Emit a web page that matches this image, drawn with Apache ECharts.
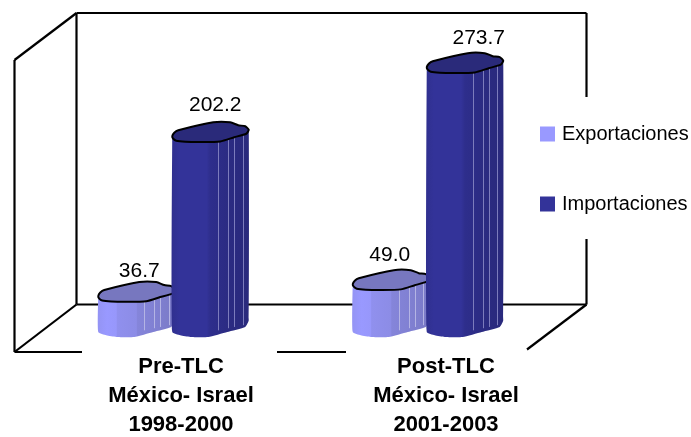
<!DOCTYPE html>
<html>
<head>
<meta charset="utf-8">
<style>html,body{margin:0;padding:0;background:#fff}#c{width:691px;height:437px}</style>
<script src="https://cdn.jsdelivr.net/npm/echarts@6/dist/echarts.min.js"></script>
</head>
<body>
<div id="c"></div>
<script>
var categories = ['Pre-TLC\nMéxico- Israel\n1998-2000', 'Post-TLC\nMéxico- Israel\n2001-2003'];
var exportaciones = [36.7, 49.0];
var importaciones = [202.2, 273.7];

var FONT = '"Liberation Sans", Arial, sans-serif';
// Cap and foot outlines of one column, in px relative to its left edge and lowest point
var capOutline = [[0,-5.5],[2,-9],[6,-11.5],[41,-19.5],[58,-19.5],[66,-16.5],[73,-15.5],[76.5,-12],[74,-8],[62,-4.5],[48,-.3],[28,.3],[13,0],[4,-1],[1,-3]];
var capLower = [[0,-5.5],[1,-3],[4,-1],[13,0],[28,.3],[48,-.3],[62,-4.5],[74,-8],[76.5,-12]];
var footOutline = [[76.5,-16.7],[73,-10],[55,-5],[36,0],[18,0],[8,-1.7],[0,-5]];
var ribs = [0.605, 0.737, 0.816, 0.925];

function columnSeries(name, values, o) {
  return {
    type: 'custom', name: name, xAxisIndex: 0, yAxisIndex: 0, z: o.z, clip: false,
    itemStyle: { color: o.swatch },
    encode: { x: 0, y: 1 },
    data: values.map(function (v, i) { return [i, v]; }),
    renderItem: function (params, api) {
      var i = api.value(0), v = api.value(1);
      var top = api.coord([i, v]), base = api.coord([i, 0]);
      var left = top[0] + o.dx;
      var body = capLower.map(function (p) { return [left + p[0], top[1] + p[1]]; })
        .concat(footOutline.map(function (p) { return [left + p[0], base[1] + p[1]]; }));
      var children = [{
        type: 'polygon', shape: { points: body, smooth: 0.15 },
        style: { fill: new echarts.graphic.LinearGradient(0, 0, 1, 0, o.stops) }
      }];
      ribs.forEach(function (f) {
        var x = Math.round(left + f * 76) + 0.5;
        children.push({
          type: 'line',
          shape: { x1: x, y1: top[1] - 6 * (f + 0.3), x2: x, y2: base[1] - 16 * f + 3 },
          style: { stroke: o.rib, lineWidth: 1 }
        });
      });
      children.push({
        type: 'polygon',
        shape: { points: capOutline.map(function (p) { return [left + p[0], top[1] + p[1]]; }), smooth: 0.2 },
        style: { fill: o.cap, stroke: '#000', lineWidth: 2 }
      });
      children.push({
        type: 'text',
        style: {
          text: v.toFixed(1), x: left + o.labelDx[i], y: top[1] + o.labelDy[i],
          textAlign: 'center', textVerticalAlign: 'middle',
          font: '21px ' + FONT, fill: '#000'
        }
      });
      return { type: 'group', children: children };
    }
  };
}

var frame = [
  [76.5,13,586.5,13],[586.5,13,586.5,97],[586.5,239,586.5,304.5],
  [76.5,13,76.5,304.5],[14.5,60,76.5,13],[14.5,60,14.5,352],
  [76.5,304.5,586.5,304.5],[14.5,352,76.5,304.5],[586.5,304.5,527,349.5],
  [14.5,352,82,352],[277,352,346,352]
];

var chart = echarts.init(document.getElementById('c'), null, { renderer: 'canvas' });
chart.setOption({
  animation: false,
  backgroundColor: '#fff',
  grid: [
    { left: 46, width: 509, top: 47.3, height: 289.7, outerBoundsMode: 'none' },
    { left: 48.5, width: 530, top: 47.3, height: 304.7, outerBoundsMode: 'none' }
  ],
  xAxis: [
    { type: 'category', gridIndex: 0, data: categories, show: false },
    {
      type: 'category', gridIndex: 1, data: categories,
      axisLine: { show: false }, axisTick: { show: false },
      axisLabel: { interval: 0, margin: 0, fontFamily: FONT, fontSize: 22, fontWeight: 'bold', lineHeight: 29, color: '#000' }
    }
  ],
  yAxis: [
    { type: 'value', gridIndex: 0, min: 0, max: 300, show: false },
    { type: 'value', gridIndex: 1, min: 0, max: 300, show: false }
  ],
  legend: {
    left: 535, top: 119, orient: 'vertical', itemWidth: 15, itemHeight: 15, itemGap: 50,
    icon: 'rect', selectedMode: false,
    textStyle: { fontFamily: FONT, fontSize: 20, color: '#000', padding: [0,0,0,2] },
    data: ['Exportaciones', 'Importaciones']
  },
  graphic: frame.map(function (s) {
    return { type: 'line', z: 0, shape: { x1: s[0], y1: s[1], x2: s[2], y2: s[3] }, style: { stroke: '#000', lineWidth: 2.2 } };
  }),
  series: [
    columnSeries('Exportaciones', exportaciones, {
      z: 3, dx: -75, swatch: '#9999FF', cap: '#7777BF', rib: '#B4B4E4',
      labelDx: [41, 37], labelDy: [-30, -34],
      stops: [{offset:0,color:'#9494F4'},{offset:.12,color:'#9999FF'},{offset:.24,color:'#9797FB'},{offset:.25,color:'#9090EE'},{offset:.5,color:'#8C8CE6'},{offset:.51,color:'#8585DA'},{offset:.75,color:'#8080D2'},{offset:1,color:'#7A7AC6'}]
    }),
    columnSeries('Importaciones', importaciones, {
      z: 4, dx: -1, swatch: '#333399', cap: '#2A2A7A', rib: '#7C7CBC',
      labelDx: [43, 52], labelDy: [-37, -34],
      stops: [{offset:0,color:'#30308F'},{offset:.1,color:'#333399'},{offset:.45,color:'#333399'},{offset:.5,color:'#2E2E8C'},{offset:.75,color:'#2B2B82'},{offset:1,color:'#29297C'}]
    })
  ]
});
</script>
</body>
</html>
